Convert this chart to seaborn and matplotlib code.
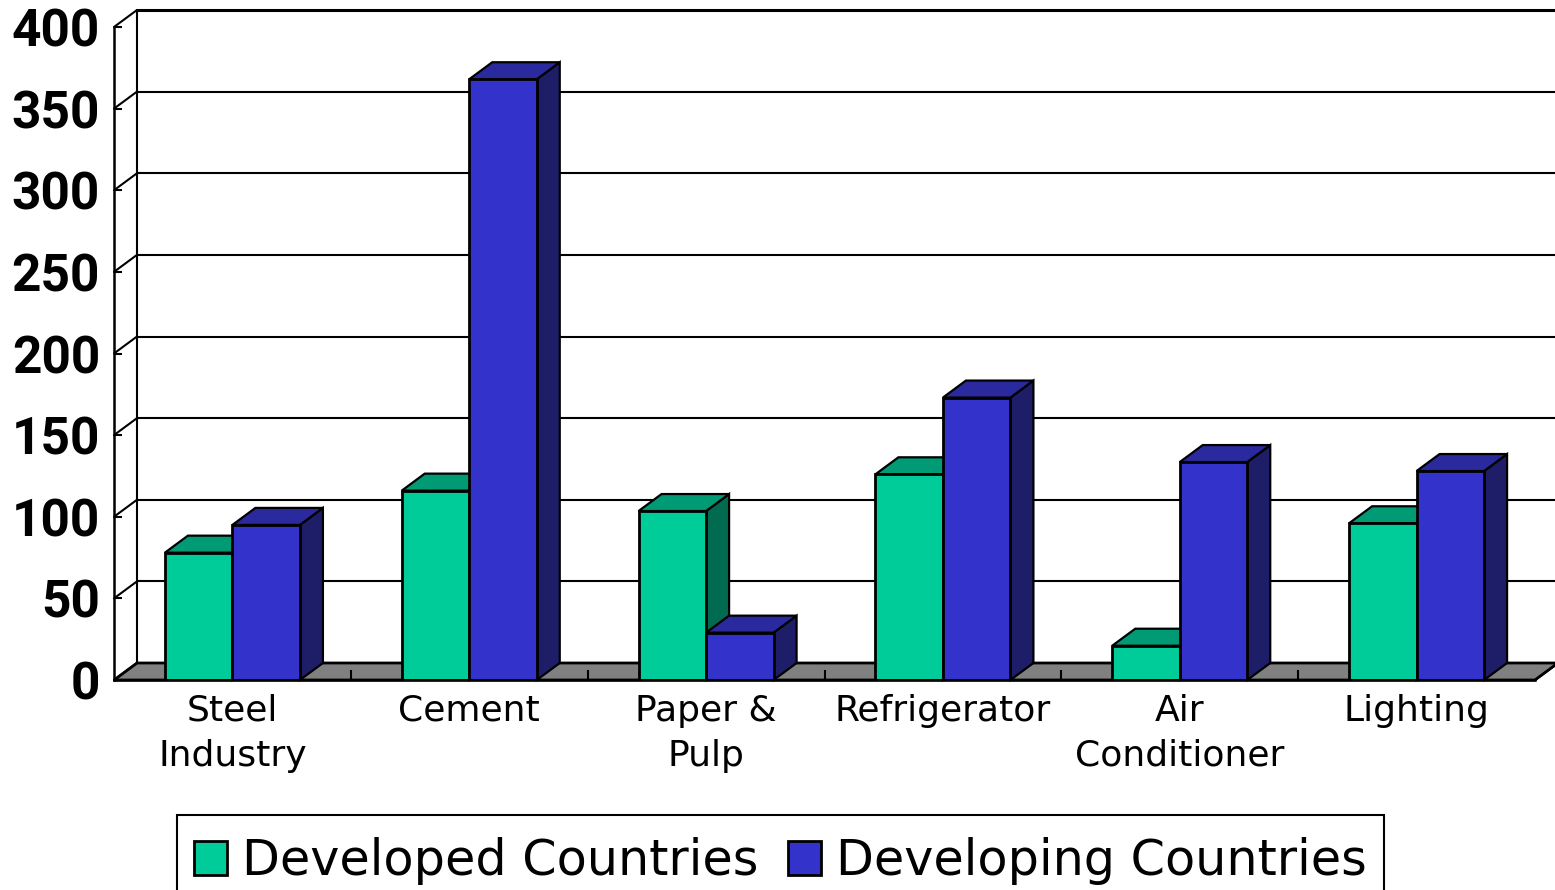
import matplotlib
matplotlib.use("Agg")
import matplotlib.pyplot as plt
import pandas as pd
import seaborn as sns
from matplotlib.patches import Polygon

categories = ["Steel\nIndustry", "Cement", "Paper &\nPulp", "Refrigerator", "Air\nConditioner", "Lighting"]
developed = [78, 116, 103.5, 126, 21, 96]
developing = [95, 368, 29, 173, 133.5, 128]
y_ticks = [0, 50, 100, 150, 200, 250, 300, 350, 400]

front_colors = {"Developed Countries": "#00CC99", "Developing Countries": "#3333CC"}
top_colors = ["#009A75", "#2A2A9E"]
side_colors = ["#006B50", "#1E1E68"]

df = pd.DataFrame({
    "category": categories * 2,
    "value": developed + developing,
    "series": ["Developed Countries"] * 6 + ["Developing Countries"] * 6,
})

sns.set_theme(style="white")
plt.rcParams["font.family"] = ["DejaVu Sans"]

W, H = 1555, 890
fig = plt.figure(figsize=(W / 100, H / 100), dpi=100)
ax = fig.add_axes([114 / W, (H - 680) / H, (1535 - 114) / W, (680 - 27) / H])

sns.barplot(data=df, x="category", y="value", hue="series", palette=front_colors,
            width=0.57, gap=0, saturation=1, edgecolor="black", linewidth=2,
            ax=ax, zorder=4)
ax.set_xlim(-0.5, 5.5)
ax.set_ylim(0, 400)
ax.set_xlabel("")
ax.set_ylabel("")

# depth of the fake 3d box, 23px across and 17px up
dx = 23 * 6 / (1535 - 114)
dy = 17 * 400 / (680 - 27)

# floor and back wall
ax.add_patch(Polygon([(-0.5, 0), (5.5, 0), (5.5 + dx, dy), (-0.5 + dx, dy)], closed=True,
                     facecolor="#808080", edgecolor="black", linewidth=2, clip_on=False, zorder=1))
for t in y_ticks[1:]:
    lw = 2.2 if t == 400 else 1.5
    ax.plot([-0.5 + dx, 5.5 + dx], [t + dy, t + dy], color="black", lw=lw, clip_on=False, zorder=1.5)
for t in y_ticks:
    ax.plot([-0.5, -0.5 + dx], [t, t + dy], color="black", lw=1.5, clip_on=False, zorder=1.5)
ax.plot([-0.5 + dx, -0.5 + dx], [dy, 400 + dy], color="black", lw=1.5, clip_on=False, zorder=1.5)
ax.plot([5.5 + dx, 5.5], [dy, 0], color="black", lw=1.5, clip_on=False, zorder=1.5)
ax.vlines([k + 0.5 for k in range(5)], 0, 6, color="black", lw=1.5, zorder=1.6)

# top and side faces of the bars
for i, cont in enumerate(ax.containers):
    for bar in cont:
        x0, x1, h = bar.get_x(), bar.get_x() + bar.get_width(), bar.get_height()
        ax.add_patch(Polygon([(x1, 0), (x1 + dx, dy), (x1 + dx, h + dy), (x1, h)], closed=True,
                             facecolor=side_colors[i], edgecolor="black", linewidth=1.6,
                             clip_on=False, zorder=2 + i * 0.5))
        ax.add_patch(Polygon([(x0, h), (x0 + dx, h + dy), (x1 + dx, h + dy), (x1, h)], closed=True,
                             facecolor=top_colors[i], edgecolor="black", linewidth=1.6,
                             clip_on=False, zorder=2 + i * 0.5))

sns.despine(ax=ax, top=True, right=True)
for s in ["left", "bottom"]:
    ax.spines[s].set_linewidth(1.8)
    ax.spines[s].set_color("black")
    ax.spines[s].set_zorder(5)

ax.set_yticks(y_ticks)
ax.tick_params(axis="y", direction="in", length=6, width=1.5, color="black", left=True,
               labelsize=37, pad=10, labelcolor="black")
ax.tick_params(axis="x", length=0, labelsize=26, pad=10, labelcolor="black")
for lab in ax.get_yticklabels():
    lab.set_family("Roboto")
    lab.set_fontweight("bold")
for lab in ax.get_xticklabels():
    lab.set_linespacing(1.4)

# blank small title only pushes the row down inside the frame
handles, labels = ax.get_legend_handles_labels()
ax.legend(handles, labels, ncols=2, loc="upper left", bbox_to_anchor=(177 / W, (H - 815) / H),
          bbox_transform=fig.transFigure, borderaxespad=0, fancybox=False, framealpha=1,
          edgecolor="black", fontsize=35.5, handlelength=0.67, handleheight=0.67,
          handletextpad=0.3, columnspacing=0.6, borderpad=0.35, labelspacing=0,
          title=" ", title_fontsize=4, labelcolor="black")
ax.get_legend().get_frame().set_linewidth(1.5)
ax.get_legend().set_zorder(10)

fig.savefig("out.png", dpi=100)
